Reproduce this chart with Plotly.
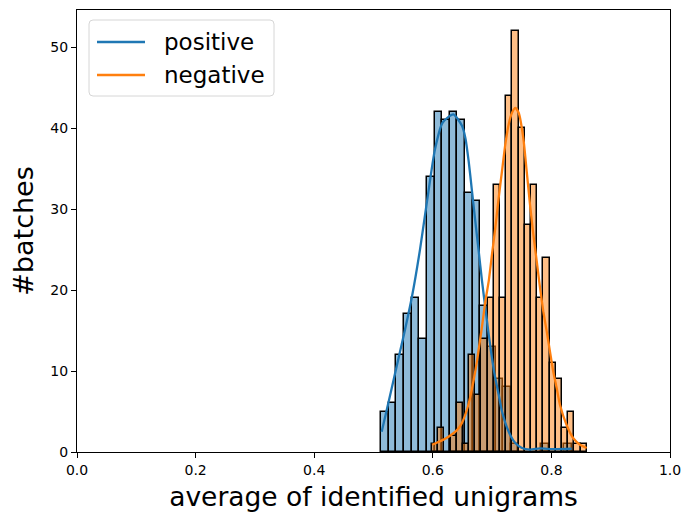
import numpy as np
import plotly.graph_objects as go

# ---- data ----
labels = ["positive", "negative"]

blue_bin_start = 0.513
blue_bin_width = 0.01285
blue_counts = [5, 6, 12, 17, 19, 14, 34, 42, 41, 42, 41, 32, 31, 18, 13, 9, 8, 1, 0, 0, 0, 1, 0, 0, 1]

orange_bin_start = 0.5985
orange_bin_width = 0.01045
orange_counts = [1, 3, 0, 2, 6, 1, 12, 7, 14, 19, 33, 19, 44, 52, 40, 28, 33, 19, 24, 11, 9, 3, 5, 1, 1]

blue_kde_x = [0.5138, 0.5261, 0.5391, 0.5519, 0.5649, 0.5784, 0.5907, 0.6037, 0.6167, 0.6346,
              0.6492, 0.6549, 0.6605, 0.6661, 0.6717, 0.6774, 0.6830, 0.6886, 0.6943, 0.6998,
              0.7054, 0.7111, 0.7167, 0.7280, 0.7391, 0.7504, 0.7639, 0.7808, 0.8027, 0.8342]
blue_kde_y = [2.5, 6.4, 10.6, 14.7, 19.2, 25.0, 31.2, 37.4, 40.7, 41.7,
              40.3, 38.8, 35.9, 32.2, 28.5, 24.8, 21.1, 17.8, 14.5, 11.6,
              9.1, 7.1, 5.0, 2.5, 1.1, 0.5, 0.3, 0.45, 0.35, 0.4]

orange_kde_x = [0.5987, 0.6201, 0.6408, 0.6492, 0.6605, 0.6717, 0.6830, 0.6886, 0.6943, 0.6998,
                0.7054, 0.7111, 0.7167, 0.7223, 0.7280, 0.7336, 0.7391, 0.7448, 0.7526, 0.7583,
                0.7639, 0.7695, 0.7752, 0.7808, 0.7863, 0.7921, 0.7976, 0.8032, 0.8089, 0.8145,
                0.8258, 0.8369, 0.8482, 0.8595]
orange_kde_y = [0.9, 1.6, 2.7, 3.6, 6.0, 10.0, 15.5, 18.6, 21.1, 24.4,
                27.7, 31.4, 34.7, 38.0, 40.5, 41.9, 42.5, 41.9, 38.8, 34.7,
                30.6, 26.9, 23.6, 20.3, 17.4, 14.9, 12.4, 9.9, 7.9, 5.8,
                3.3, 1.7, 0.9, 0.5]

x_ticks = [0.0, 0.2, 0.4, 0.6, 0.8, 1.0]
x_tick_labels = ["0.0", "0.2", "0.4", "0.6", "0.8", "1.0"]
y_ticks = [0, 10, 20, 30, 40, 50]

BLUE = "#1f77b4"
ORANGE = "#ff7f0e"
BLUE_FILL = "rgba(31,119,180,0.5)"
ORANGE_FILL = "rgba(255,127,14,0.5)"
colors = [BLUE, ORANGE]


def bar_trace(start, width, counts, fill):
    counts = np.array(counts, dtype=float)
    centers = start + width * (np.arange(len(counts)) + 0.5)
    mask = counts > 0
    return go.Bar(
        x=centers[mask], y=counts[mask], width=width,
        marker=dict(color=fill, line=dict(color="black", width=1.5)),
        showlegend=False, hoverinfo="skip",
    )


fig = go.Figure()
fig.add_trace(bar_trace(blue_bin_start, blue_bin_width, blue_counts, BLUE_FILL))
fig.add_trace(bar_trace(orange_bin_start, orange_bin_width, orange_counts, ORANGE_FILL))
fig.add_trace(go.Scatter(x=blue_kde_x, y=blue_kde_y, mode="lines", name=labels[0],
                         showlegend=False,
                         line=dict(color=BLUE, width=2.3, shape="spline", smoothing=0.6)))
fig.add_trace(go.Scatter(x=orange_kde_x, y=orange_kde_y, mode="lines", name=labels[1],
                         showlegend=False,
                         line=dict(color=ORANGE, width=2.3, shape="spline", smoothing=0.6)))

# ---- plot area geometry (pixels) ----
W, H = 686, 512
L, R, T, B = 77, 16, 10, 60
PW, PH = W - L - R, H - T - B


def px(xp):
    return (xp - L) / PW


def py(yp):
    return (H - B - yp) / PH


# manual legend (matplotlib-like, rounded box)
bx0, bx1, by0, by1, rad = px(89), px(274), py(20), py(96), 4
rx, ry = rad / PW, rad / PH
path = (f"M {bx0+rx},{by0} L {bx1-rx},{by0} Q {bx1},{by0} {bx1},{by0-ry} "
        f"L {bx1},{by1+ry} Q {bx1},{by1} {bx1-rx},{by1} "
        f"L {bx0+rx},{by1} Q {bx0},{by1} {bx0},{by1+ry} "
        f"L {bx0},{by0-ry} Q {bx0},{by0} {bx0+rx},{by0} Z")
shapes = [dict(type="path", path=path, xref="paper", yref="paper",
               line=dict(color="#d6d6d6", width=1), fillcolor="rgba(255,255,255,0.8)",
               layer="above")]
annotations = []
for i, (lab, col) in enumerate(zip(labels, colors)):
    yy = py(42 + i * 33)
    shapes.append(dict(type="line", xref="paper", yref="paper", x0=px(97), x1=px(145),
                       y0=yy, y1=yy, line=dict(color=col, width=2.3), layer="above"))
    annotations.append(dict(text=lab, xref="paper", yref="paper", x=px(162), y=yy,
                            xanchor="left", yanchor="middle", showarrow=False,
                            font=dict(size=23, color="black")))

font_family = "DejaVu Sans"
fig.update_layout(
    width=W, height=H,
    margin=dict(l=L, r=R, t=T, b=B, autoexpand=False),
    paper_bgcolor="white", plot_bgcolor="white",
    barmode="overlay", bargap=0,
    font=dict(family=font_family, color="black"),
    showlegend=False,
    shapes=shapes, annotations=annotations,
    xaxis=dict(
        range=[0, 1], tickvals=x_ticks, ticktext=x_tick_labels,
        showline=True, mirror=True, linecolor="black", linewidth=1,
        ticks="outside", ticklen=5, tickcolor="black", showgrid=False, zeroline=False,
        tickfont=dict(size=14), automargin=False,
        title=dict(text="average of identified unigrams", font=dict(size=26.5), standoff=10),
    ),
    yaxis=dict(
        range=[0, 54.6], tickvals=y_ticks,
        showline=True, mirror=True, linecolor="black", linewidth=1,
        ticks="outside", ticklen=5, tickcolor="black", showgrid=False, zeroline=False,
        tickfont=dict(size=14), automargin=False,
        title=dict(text="#batches", font=dict(size=27), standoff=8),
    ),
)

fig.write_html("out.html")
